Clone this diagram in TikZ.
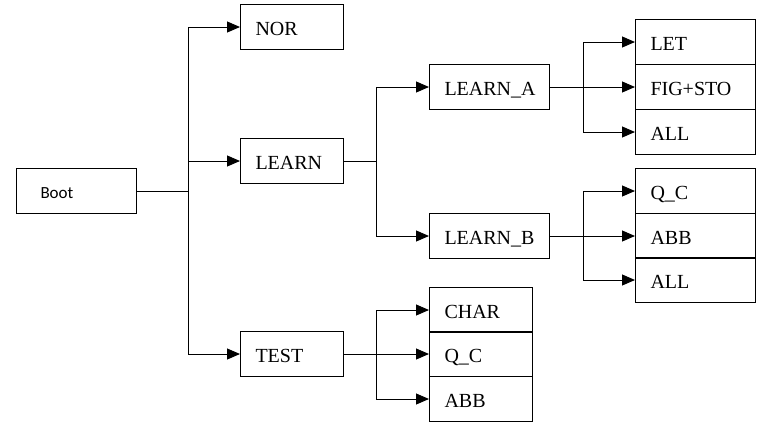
\documentclass[tikz,border=0pt]{standalone}
\usepackage{fontspec}
\setmainfont{Liberation Serif}
\newfontfamily\bootfont{Carlito}
\usetikzlibrary{arrows.meta}
\begin{document}
\begin{tikzpicture}[x=1pt,y=-1pt,
  box/.style={draw, line width=1pt, rectangle, minimum height=45pt, inner xsep=15pt, inner ysep=0pt, text height=17pt, text depth=0pt, align=left, font=\fontsize{20}{24}\selectfont, anchor=west},
  wbox/.style={box, minimum width=120pt, text width=90pt},
  nbox/.style={box, minimum width=103pt, text width=73pt},
  lnk/.style={line width=1pt},
  arr/.style={lnk, -{Triangle[length=13pt,width=11pt]}}]
\useasboundingbox (0,0) rectangle (777,432);
% nodes
\node[wbox, font=\bootfont\fontsize{17}{20}\selectfont, inner xsep=24pt, text width=72pt, text height=15pt] (boot) at (16,191) {Boot};
\node[nbox] (nor) at (240,27) {NOR};
\node[nbox] (learn) at (240,161) {LEARN};
\node[nbox] (test) at (240,354) {TEST};
\node[wbox] (la) at (429,87) {LEARN\_A};
\node[wbox] (lb) at (429,236) {LEARN\_B};
\node[wbox] (let) at (635,42) {LET};
\node[wbox] (fig) at (635,87) {FIG+STO};
\node[wbox] (all1) at (635,132) {ALL};
\node[wbox] (qc1) at (635,191) {Q\_C};
\node[wbox] (abb1) at (635,236) {ABB};
\node[wbox] (all2) at (635,280) {ALL};
\node[nbox] (char) at (429,310) {CHAR};
\node[nbox] (qc2) at (429,354) {Q\_C};
\node[nbox] (abb2) at (429,399) {ABB};
% junctions
\coordinate (j1) at (188,191);
\coordinate (j2) at (376,161);
\coordinate (j3) at (583,87);
\coordinate (j4) at (583,236);
\coordinate (j5) at (376,354);
% connectors
\draw[lnk] (boot.east) -- (j1);
\draw[arr] (j1) |- (nor.west);
\draw[arr] (j1) |- (learn.west);
\draw[arr] (j1) |- (test.west);
\draw[lnk] (learn.east) -- (j2);
\draw[arr] (j2) |- (la.west);
\draw[arr] (j2) |- (lb.west);
\draw[arr] (la.east) -- (fig.west);
\draw[arr] (j3) |- (let.west);
\draw[arr] (j3) |- (all1.west);
\draw[arr] (lb.east) -- (abb1.west);
\draw[arr] (j4) |- (qc1.west);
\draw[arr] (j4) |- (all2.west);
\draw[arr] (test.east) -- (qc2.west);
\draw[arr] (j5) |- (char.west);
\draw[arr] (j5) |- (abb2.west);
\end{tikzpicture}
\end{document}
